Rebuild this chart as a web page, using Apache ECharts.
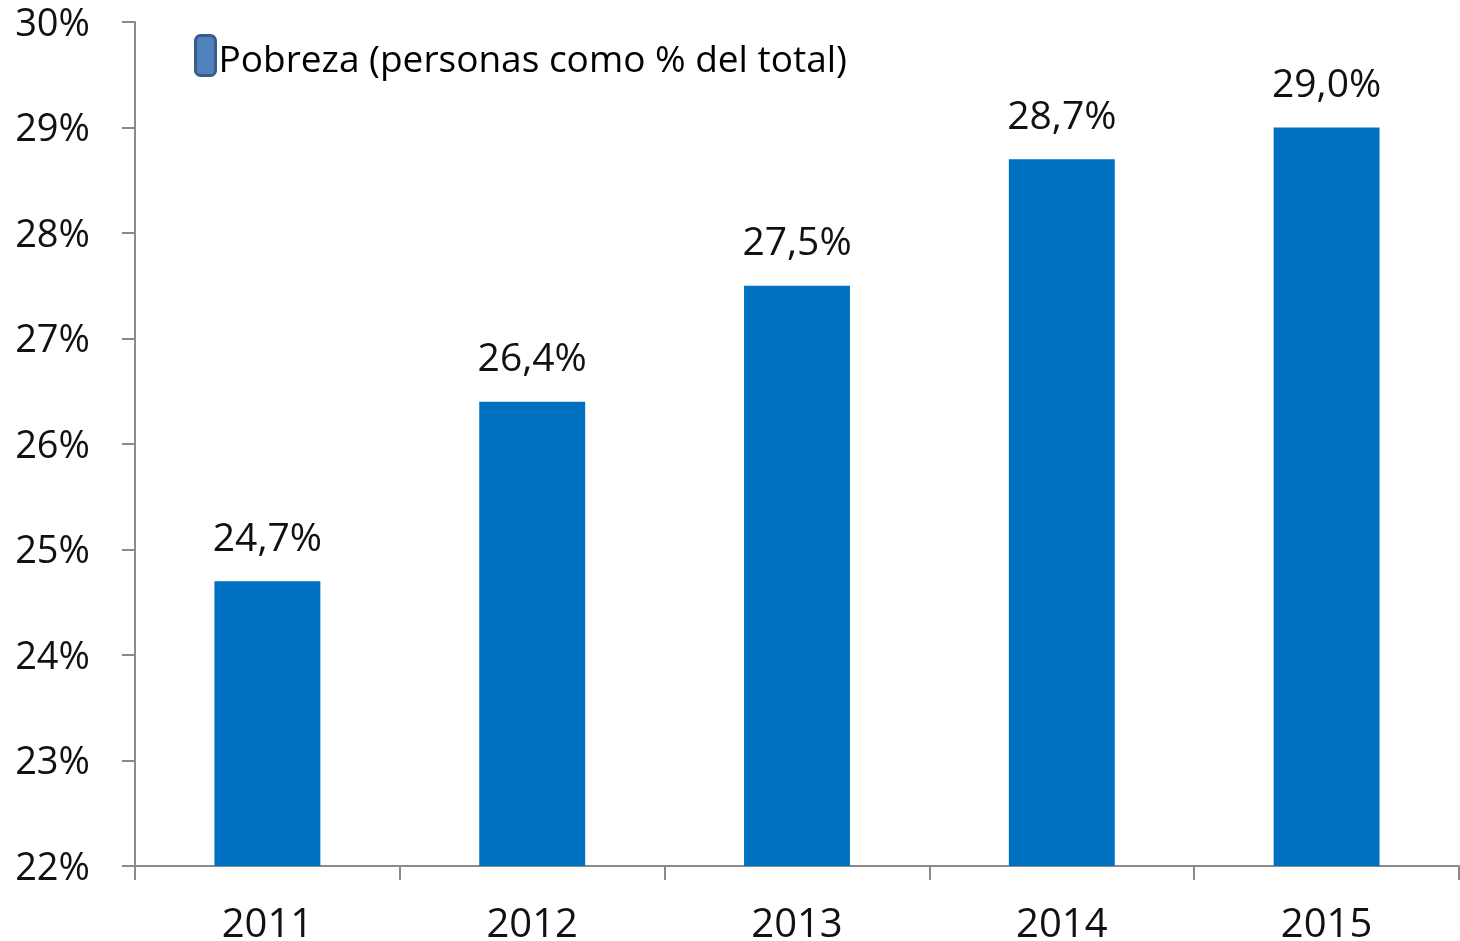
<!DOCTYPE html>
<html><head><meta charset="utf-8">
<script src="https://cdn.jsdelivr.net/npm/echarts@6/dist/echarts.min.js"></script>
<style>html,body{margin:0;padding:0;background:#fff}#c{width:1460px;height:941px}</style>
</head><body><div id="c"></div>
<script>
const categories = ['2011','2012','2013','2014','2015'];
const values = [24.7, 26.4, 27.5, 28.7, 29.0];
const seriesName = 'Pobreza (personas como % del total)';
const yMin = 22, yMax = 30, yStep = 1;

const chart = echarts.init(document.getElementById('c'));
const font = '"Open Sans", sans-serif';
chart.setOption({
  animation: false,
  grid: {left: 135, right: 1, top: 22, bottom: 75, containLabel: false, outerBoundsMode: 'none'},
  legend: {
    left: 194, top: 34, padding: 0, itemWidth: 20, itemHeight: 40,
    icon: 'roundRect',
    itemStyle: {color: '#4f81bd', borderColor: '#385d8a', borderWidth: 3},
    formatter: n => '{a|' + n + '}',
    textStyle: {fontFamily: font, fontSize: 37, color: '#000',
      rich: {a: {fontFamily: font, fontSize: 37, color: '#000', padding: [12, 0, 0, -2]}}},
    data: [seriesName]
  },
  xAxis: {
    type: 'category', data: categories,
    axisLine: {lineStyle: {color: '#8a8a8a', width: 2}},
    axisTick: {show: true, length: 14, lineStyle: {color: '#8a8a8a', width: 2}},
    axisLabel: {fontFamily: font, fontSize: 40, color: '#111', margin: 40}
  },
  yAxis: {
    type: 'value', min: yMin, max: yMax, interval: yStep,
    splitLine: {show: false},
    axisLine: {show: true, lineStyle: {color: '#8a8a8a', width: 2}},
    axisTick: {show: true, length: 13, lineStyle: {color: '#8a8a8a', width: 2}},
    axisLabel: {fontFamily: font, fontSize: 38, color: '#111', margin: 45,
      verticalAlign: 'top', lineHeight: 6,
      formatter: v => v + '%'}
  },
  series: [{
    name: seriesName, type: 'bar', data: values, barWidth: '40%',
    itemStyle: {color: '#0070C0'},
    label: {show: true, position: 'top', distance: 22, fontFamily: font, fontSize: 39, color: '#111',
      formatter: p => p.value.toFixed(1).replace('.', ',') + '%'}
  }]
});
</script></body></html>
